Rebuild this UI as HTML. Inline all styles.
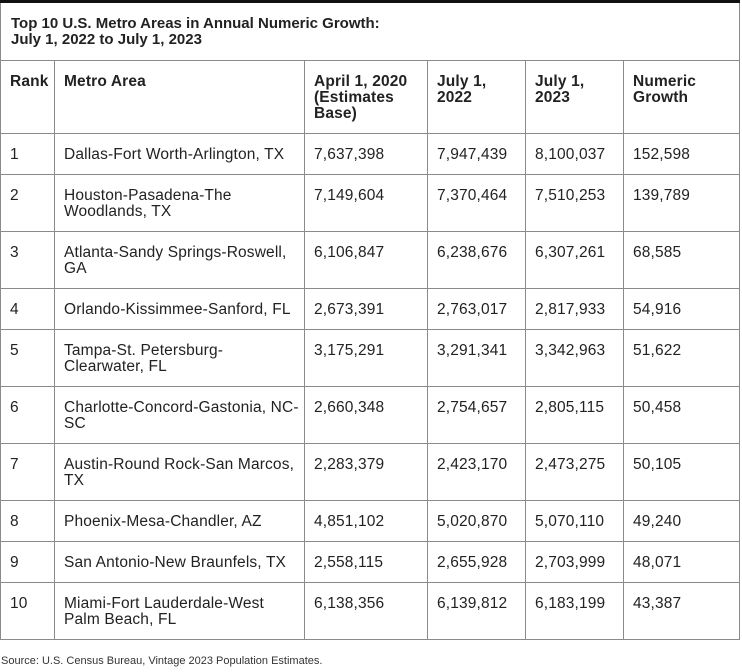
<!DOCTYPE html>
<html><head><style>
body{margin:0;background:#fff;font-family:"Liberation Sans",Arial,sans-serif;color:#222;}
.wrap{position:absolute;left:0;top:0;width:739px;}
table{border-collapse:collapse;table-layout:fixed;width:739px;font-size:15.5px;line-height:16px;letter-spacing:0.15px;}
td,th{border:1px solid #8a8a8a;padding:13px 9px 0 9px;vertical-align:top;text-align:left;overflow:hidden;}
th{font-weight:bold;}
.title td{border-top:3px solid #111;font-weight:bold;padding:13px 10px 0 10px;font-size:15px;letter-spacing:0;}
tr.title{height:59px;}
tr.h1{height:73px;}
tr.s{height:41px;}
tr.d{height:57px;}
.nw{white-space:nowrap;}
.src{position:absolute;left:1px;top:655px;font-size:11px;color:#333;}
</style></head><body>
<div class="wrap">
<table>
<colgroup><col style="width:54px"><col style="width:250px"><col style="width:123px"><col style="width:98px"><col style="width:98px"><col style="width:116px"></colgroup>
<tr class="title"><td colspan="6">Top 10 U.S. Metro Areas in Annual Numeric Growth:<br>July 1, 2022 to July 1, 2023</td></tr>
<tr class="h1"><th>Rank</th><th>Metro Area</th><th>April 1, 2020 (Estimates Base)</th><th>July 1, 2022</th><th>July 1, 2023</th><th>Numeric Growth</th></tr>
<tr class="s"><td>1</td><td>Dallas-Fort Worth-Arlington, TX</td><td>7,637,398</td><td>7,947,439</td><td>8,100,037</td><td>152,598</td></tr>
<tr class="d"><td>2</td><td>Houston-Pasadena-The Woodlands, TX</td><td>7,149,604</td><td>7,370,464</td><td>7,510,253</td><td>139,789</td></tr>
<tr class="d"><td>3</td><td>Atlanta-Sandy Springs-Roswell, GA</td><td>6,106,847</td><td>6,238,676</td><td>6,307,261</td><td>68,585</td></tr>
<tr class="s"><td>4</td><td>Orlando-Kissimmee-Sanford, FL</td><td>2,673,391</td><td>2,763,017</td><td>2,817,933</td><td>54,916</td></tr>
<tr class="d"><td>5</td><td class="nw">Tampa-St. Petersburg-<br>Clearwater, FL</td><td>3,175,291</td><td>3,291,341</td><td>3,342,963</td><td>51,622</td></tr>
<tr class="d"><td>6</td><td class="nw">Charlotte-Concord-Gastonia, NC-<br>SC</td><td>2,660,348</td><td>2,754,657</td><td>2,805,115</td><td>50,458</td></tr>
<tr class="d"><td>7</td><td class="nw">Austin-Round Rock-San Marcos,<br>TX</td><td>2,283,379</td><td>2,423,170</td><td>2,473,275</td><td>50,105</td></tr>
<tr class="s"><td>8</td><td>Phoenix-Mesa-Chandler, AZ</td><td>4,851,102</td><td>5,020,870</td><td>5,070,110</td><td>49,240</td></tr>
<tr class="s"><td>9</td><td>San Antonio-New Braunfels, TX</td><td>2,558,115</td><td>2,655,928</td><td>2,703,999</td><td>48,071</td></tr>
<tr class="d"><td>10</td><td class="nw">Miami-Fort Lauderdale-West<br>Palm Beach, FL</td><td>6,138,356</td><td>6,139,812</td><td>6,183,199</td><td>43,387</td></tr>
</table>
</div>
<div class="src">Source: U.S. Census Bureau, Vintage 2023 Population Estimates.</div>
</body></html>
